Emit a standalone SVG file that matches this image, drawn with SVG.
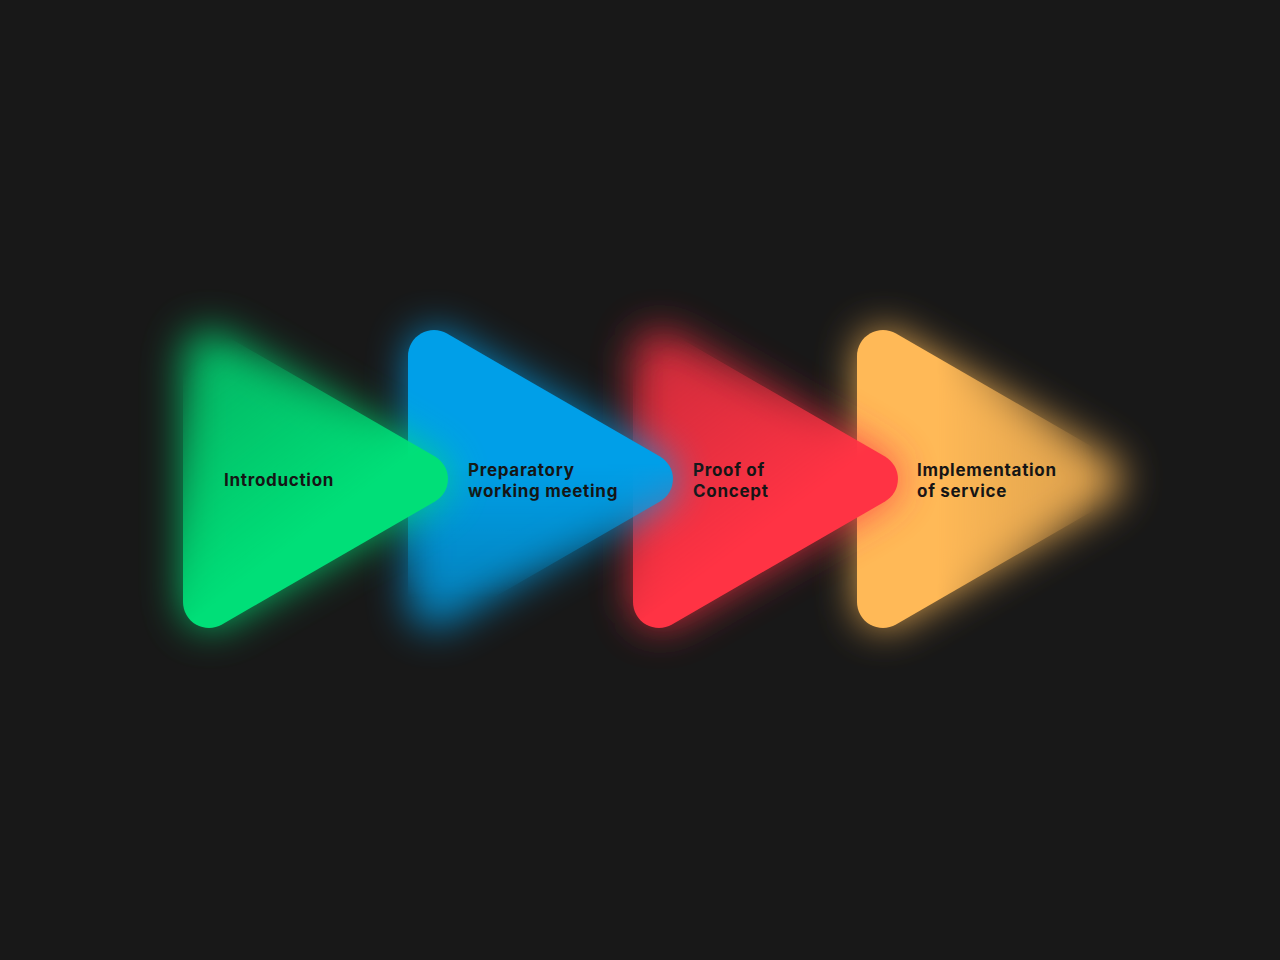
<svg xmlns="http://www.w3.org/2000/svg" width="1280" height="960" viewBox="0 0 1280 960">
<style>
.lbl{font-family:Inter,"Liberation Sans",sans-serif;font-weight:700;font-size:17px;letter-spacing:0.7px;fill:#151515}
</style>
<defs>
<path id="tri" d="M0,356 L0,602 A26,26 0 0 0 39,624.5 L252,501.5 A26,26 0 0 0 252,456.5 L39,333.5 A26,26 0 0 0 0,356 Z"/>
<filter id="blur" x="-40%" y="-40%" width="180%" height="180%"><feGaussianBlur stdDeviation="20"/></filter>
<linearGradient id="gTL" x1="0.05" y1="0.1" x2="0.45" y2="0.7"><stop offset="0" stop-color="#fff" stop-opacity="0"/><stop offset="1" stop-color="#fff" stop-opacity="1"/></linearGradient>
<linearGradient id="gB" x1="0" y1="0.45" x2="0" y2="0.9"><stop offset="0" stop-color="#fff" stop-opacity="1"/><stop offset="1" stop-color="#fff" stop-opacity="0"/></linearGradient>
<linearGradient id="gR" x1="0.3" y1="0" x2="0.9" y2="0"><stop offset="0" stop-color="#fff" stop-opacity="1"/><stop offset="1" stop-color="#fff" stop-opacity="0"/></linearGradient>
<mask id="mTL" maskContentUnits="objectBoundingBox"><rect x="0" y="0" width="1" height="1" fill="url(#gTL)"/></mask>
<mask id="mB" maskContentUnits="objectBoundingBox"><rect x="0" y="0" width="1" height="1" fill="url(#gB)"/></mask>
<mask id="mR" maskContentUnits="objectBoundingBox"><rect x="0" y="0" width="1" height="1" fill="url(#gR)"/></mask>
</defs>
<rect width="1280" height="960" fill="#181818"/>
<g id="connectors"/>
<g id="node-implementation" transform="translate(857,0)">
<use href="#tri" fill="#FFB957" filter="url(#blur)" opacity="0.85"/>
<use href="#tri" fill="#FFB957" mask="url(#mR)"/>
<text class="lbl" x="60" y="476">Implementation</text>
<text class="lbl" x="60" y="497">of service</text>
</g>
<g id="node-poc" transform="translate(633,0)">
<use href="#tri" fill="#FF3344" filter="url(#blur)" opacity="0.8"/>
<use href="#tri" fill="#FF3344" mask="url(#mTL)"/>
<text class="lbl" x="60" y="476">Proof of</text>
<text class="lbl" x="60" y="497">Concept</text>
</g>
<g id="node-preparatory" transform="translate(408,0)">
<use href="#tri" fill="#009FE8" filter="url(#blur)" opacity="0.8"/>
<use href="#tri" fill="#009FE8" mask="url(#mB)"/>
<text class="lbl" x="60" y="476">Preparatory</text>
<text class="lbl" x="60" y="497">working meeting</text>
</g>
<g id="node-introduction" transform="translate(183,0)">
<use href="#tri" fill="#00DF78" filter="url(#blur)" opacity="0.8"/>
<use href="#tri" fill="#00DF78" mask="url(#mTL)"/>
<text class="lbl" x="41" y="486">Introduction</text>
</g>
</svg>
